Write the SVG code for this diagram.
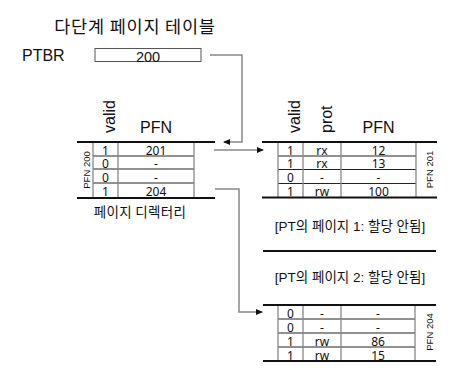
<svg xmlns="http://www.w3.org/2000/svg" width="468" height="386" viewBox="0 0 468 386">
<defs>
<style>
.ko{font-family:"Noto Sans CJK KR","Noto Sans",sans-serif;fill:#111}
.lab{font-family:"Liberation Sans","Noto Sans CJK KR",sans-serif;fill:#111}
.hd{font-family:"Liberation Sans",Arial,sans-serif;font-size:16px;fill:#111}
.cell{font-family:"Noto Sans","Open Sans",sans-serif;font-size:12px;fill:#111;text-anchor:middle}
.side{font-family:"Liberation Sans",Arial,sans-serif;font-size:9.5px;fill:#111;text-anchor:middle}
.thick{stroke:#111;stroke-width:2;fill:none}
.row{stroke:#222;stroke-width:1;fill:none}
.col{stroke:#888;stroke-width:1.3;fill:none}
.conn{stroke:#888;stroke-width:1.5;fill:none}
</style>
<marker id="ah" markerWidth="7" markerHeight="6" refX="6" refY="3" orient="auto" markerUnits="userSpaceOnUse">
<path d="M0,0 L7,3 L0,6 Z" fill="#111"/>
</marker>
</defs>
<rect width="468" height="386" fill="#fff"/>

<g id="title">
<text class="ko" x="135" y="33" font-size="17.5" letter-spacing="0.8" text-anchor="middle">다단계 페이지 테이블</text>
</g>

<g id="ptbr">
<text class="lab" x="22" y="61" font-size="16">PTBR</text>
<rect x="95" y="48.5" width="106" height="13" fill="#fff" stroke="#555" stroke-width="1"/>
<text class="lab" x="148" y="61.5" font-size="14.5" text-anchor="middle">200</text>
</g>

<g id="page-directory">
<text class="hd" transform="translate(115,133) rotate(-90)">valid</text>
<text class="hd" x="156" y="133" text-anchor="middle">PFN</text>
<line class="row" x1="93" y1="156" x2="194" y2="156"/>
<line class="row" x1="93" y1="169" x2="194" y2="169"/>
<line class="row" x1="93" y1="183" x2="194" y2="183"/>
<line class="col" x1="93" y1="142" x2="93" y2="198"/>
<line class="col" x1="118" y1="142" x2="118" y2="198"/>
<line class="col" x1="194" y1="142" x2="194" y2="198"/>
<line class="thick" x1="77" y1="142" x2="215" y2="142"/>
<line class="thick" x1="77" y1="198" x2="215" y2="198"/>
<text class="side" transform="translate(89.5,170) rotate(-90)">PFN 200</text>
<text class="cell" x="105.5" y="154.5">1</text><text class="cell" x="156" y="154.5">201</text>
<text class="cell" x="105.5" y="167.5">0</text><text class="cell" x="156" y="167.5">-</text>
<text class="cell" x="105.5" y="181.5">0</text><text class="cell" x="156" y="181.5">-</text>
<text class="cell" x="105.5" y="196">1</text><text class="cell" x="156" y="196">204</text>
<text class="ko" x="140" y="217" font-size="13.5" letter-spacing="0.3" text-anchor="middle">페이지 디렉터리</text>
</g>

<g id="pt-page0">
<text class="hd" transform="translate(300,133) rotate(-90)">valid</text>
<text class="hd" transform="translate(332,133) rotate(-90)">prot</text>
<text class="hd" x="378.5" y="133" text-anchor="middle">PFN</text>
<line class="row" x1="278" y1="156" x2="416" y2="156"/>
<line class="row" x1="278" y1="169.5" x2="416" y2="169.5"/>
<line class="row" x1="278" y1="183.5" x2="416" y2="183.5"/>
<line class="col" x1="278" y1="142" x2="278" y2="197.5"/>
<line class="col" x1="303" y1="142" x2="303" y2="197.5"/>
<line class="col" x1="341" y1="142" x2="341" y2="197.5"/>
<line class="col" x1="416" y1="142" x2="416" y2="197.5"/>
<line class="thick" x1="262" y1="142" x2="437" y2="142"/>
<line class="thick" x1="262" y1="197.5" x2="437" y2="197.5"/>
<text class="side" transform="translate(432.5,169.5) rotate(-90)">PFN 201</text>
<text class="cell" x="290.5" y="154.5">1</text><text class="cell" x="322" y="154.5">rx</text><text class="cell" x="378.5" y="154.5">12</text>
<text class="cell" x="290.5" y="168">1</text><text class="cell" x="322" y="168">rx</text><text class="cell" x="378.5" y="168">13</text>
<text class="cell" x="290.5" y="182">0</text><text class="cell" x="322" y="182">-</text><text class="cell" x="378.5" y="182">-</text>
<text class="cell" x="290.5" y="196">1</text><text class="cell" x="322" y="196">rw</text><text class="cell" x="378.5" y="196">100</text>
</g>

<g id="pt-page1">
<text class="lab" x="350" y="231" font-size="13.5" text-anchor="middle">[PT의 페이지 1: 할당 안됨]</text>
<line class="thick" x1="263" y1="251" x2="436" y2="251"/>
</g>

<g id="pt-page2">
<text class="lab" x="350" y="282" font-size="13.5" text-anchor="middle">[PT의 페이지 2: 할당 안됨]</text>
</g>

<g id="pt-page3">
<line class="row" x1="278" y1="319" x2="415" y2="319"/>
<line class="row" x1="278" y1="333" x2="415" y2="333"/>
<line class="row" x1="278" y1="347" x2="415" y2="347"/>
<line class="col" x1="278" y1="305" x2="278" y2="361"/>
<line class="col" x1="303" y1="305" x2="303" y2="361"/>
<line class="col" x1="341" y1="305" x2="341" y2="361"/>
<line class="col" x1="415" y1="305" x2="415" y2="361"/>
<line class="thick" x1="263" y1="305" x2="436" y2="305"/>
<line class="thick" x1="263" y1="361" x2="436" y2="361"/>
<text class="side" transform="translate(432.5,332) rotate(-90)">PFN 204</text>
<text class="cell" x="290.5" y="317.5">0</text><text class="cell" x="322" y="317.5">-</text><text class="cell" x="378" y="317.5">-</text>
<text class="cell" x="290.5" y="331.5">0</text><text class="cell" x="322" y="331.5">-</text><text class="cell" x="378" y="331.5">-</text>
<text class="cell" x="290.5" y="345.5">1</text><text class="cell" x="322" y="345.5">rw</text><text class="cell" x="378" y="345.5">86</text>
<text class="cell" x="290.5" y="359.5">1</text><text class="cell" x="322" y="359.5">rw</text><text class="cell" x="378" y="359.5">15</text>
</g>

<g id="connectors">
<path class="conn" d="M210,55 H242 V142 H224" marker-end="url(#ah)"/>
<path class="conn" d="M214,150 H263" marker-end="url(#ah)"/>
<path class="conn" d="M215,189 H239 V312 H262" marker-end="url(#ah)"/>
</g>
</svg>
